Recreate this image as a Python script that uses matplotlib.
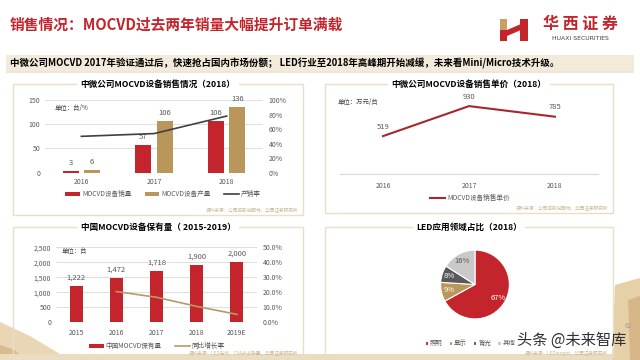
import matplotlib
matplotlib.use('Agg')
import matplotlib.pyplot as plt
import matplotlib.patches as mpatches
from matplotlib.ticker import FuncFormatter

plt.rcParams['font.family'] = ['Noto Sans CJK SC', 'DejaVu Sans']
plt.rcParams['axes.unicode_minus'] = False

W, H = 640, 360  # canvas in pixels

RED = '#C4242B'
DARKRED = '#A8262C'
GOLD = '#B9975B'
GREY_TXT = '#595959'
GRID = '#D9D9D9'
FRAME = '#EADFC6'
SRC = '#C9B48E'

# --- data -------------------------------------------------------------
sales_years = ['2016', '2017', '2018']
sales_qty = [3, 57, 106]          # MOCVD设备销量
prod_qty = [6, 106, 136]          # MOCVD设备产量
sell_rate = [0.50, 0.538, 0.779]  # 产销率

price_years = ['2016', '2017', '2018']
unit_price = [519, 930, 785]      # 万元/台

stock_years = ['2015', '2016', '2017', '2018', '2019E']
stock_qty = [1222, 1472, 1718, 1900, 2000]
stock_growth = [0.205, 0.167, 0.106, 0.053]  # from 2016 on

pie_labels = ['照明', '显示', '背光', '其他']
pie_share = [67, 9, 8, 16]
pie_colors = [RED, GOLD, '#595959', '#C9C9C9']


fig = plt.figure(figsize=(6.4, 3.6), dpi=100)
fig.patch.set_facecolor('white')


def px(x, y):
    # pixel (from top-left) -> figure fraction
    return x / W, 1 - y / H


def px_axes(x0, y0, x1, y1):
    return fig.add_axes([x0 / W, 1 - y1 / H, (x1 - x0) / W, (y1 - y0) / H])


def fig_poly(points, color):
    fig.patches.append(mpatches.Polygon([px(x, y) for x, y in points], closed=True,
                                        transform=fig.transFigure, fc=color, ec='none',
                                        zorder=0))


def fig_rect(x0, y0, x1, y1, **kw):
    fig.patches.append(mpatches.Rectangle(px(x0, y1), (x1 - x0) / W, (y1 - y0) / H,
                                          transform=fig.transFigure, **kw))


def panel(x0, y0, x1, y1, title, source):
    fig_rect(x0, y0, x1, y1, fc='none', ec=FRAME, lw=1.0, zorder=1)
    fig.text(*px((x0 + x1) / 2, y0), title, ha='center', va='center', fontsize=6.2,
             fontweight='bold', color='black', zorder=3,
             bbox=dict(fc='white', ec='none', pad=2.5))
    fig.text(*px(x1 - 5, y1 - 4), source, ha='right', va='center', fontsize=3.3,
             color=SRC, zorder=3)


def style_ax(ax):
    for s in ax.spines.values():
        s.set_visible(False)
    ax.tick_params(length=0, labelsize=5, labelcolor=GREY_TXT)
    ax.set_facecolor('none')


# wooden background bits at the bottom
fig_poly([(0, 322), (30, 336), (70, 360), (0, 360)], '#E9D6B4')
fig_poly([(0, 345), (15, 350), (25, 360), (0, 360)], '#D9BC8E')
fig_poly([(0, 354), (640, 354), (640, 360), (0, 360)], '#EBDCC0')
fig_poly([(615, 285), (640, 278), (640, 360), (612, 360)], '#E6D0A8')
fig_poly([(628, 300), (640, 296), (640, 360), (630, 360)], '#D7B787')

# --- header -----------------------------------------------------------
fig.text(*px(10, 25), '销售情况：MOCVD过去两年销量大幅提升订单满载', fontsize=10.6,
         fontweight='bold', color=RED, va='center', ha='left')

# logo mark
fig_rect(500, 19, 507, 30, fc='#C9A062', ec='none')
fig_rect(500, 30, 507, 41, fc=RED, ec='none')
fig_poly([(507, 30), (521, 24), (521, 30), (507, 36)], RED)
fig_rect(520, 19, 528, 41, fc=RED, ec='none')
fig.text(*px(580, 24), '华 西 证 券', fontsize=11.5, fontweight='bold', color=RED,
         ha='center', va='center')
fig.text(*px(580, 38), 'HUAXI SECURITIES', fontsize=4.4, color='#404040',
         ha='center', va='center', family=['DejaVu Sans'])

# banner
fig_rect(6, 55, 634, 71, fc='#F3EADA', ec='none', zorder=1)
fig_rect(6, 71, 634, 73, fc='#EDE6DA', ec='none', zorder=1)
fig.text(*px(10, 63), '中微公司MOCVD 2017年验证通过后，快速抢占国内市场份额； '
         'LED行业至2018年高峰期开始减缓，未来看Mini/Micro技术升级。',
         fontsize=6.8, fontweight='bold', color='black', va='center', ha='left', zorder=2)

# --- panel 1: sales & production -------------------------------------
panel(13, 84, 303, 215, '中微公司MOCVD设备销售情况（2018）',
      '资料来源：公司招股说明书，华西证券研究所')
ax1 = px_axes(45, 100, 263, 172.7)
style_ax(ax1)
xs = list(range(len(sales_years)))
b1 = ax1.bar([x - 0.145 for x in xs], sales_qty, width=0.22, color=RED, zorder=2)
b2 = ax1.bar([x + 0.145 for x in xs], prod_qty, width=0.22, color=GOLD, zorder=2)
for x, v in zip(xs, sales_qty):
    ax1.annotate(str(v), (x - 0.145, v), xytext=(0, 3), textcoords='offset points',
                 ha='center', va='bottom', fontsize=5.5, color=GREY_TXT)
for x, v in zip(xs, prod_qty):
    ax1.annotate(str(v), (x + 0.145, v), xytext=(0, 3), textcoords='offset points',
                 ha='center', va='bottom', fontsize=5.5, color=GREY_TXT)
ax1.set_xlim(-0.5, len(xs) - 0.5)
ax1.set_ylim(0, 150)
ax1.set_yticks([0, 50, 100, 150])
ax1.set_xticks(xs)
ax1.set_xticklabels(sales_years)
ax1.tick_params(axis='x', pad=4)
ax1.grid(axis='y', color=GRID, lw=0.6, zorder=0)
ax1.set_axisbelow(True)
ax1.text(0.045, 0.86, '单位：台/%', transform=ax1.transAxes, fontsize=4.6, color='#404040')

ax1r = ax1.twinx()
style_ax(ax1r)
ln1, = ax1r.plot(xs, sell_rate, color='#404040', lw=1.2, zorder=3)
ax1r.set_ylim(0, 1)
ax1r.set_yticks([0, 0.2, 0.4, 0.6, 0.8, 1.0])
ax1r.yaxis.set_major_formatter(FuncFormatter(lambda v, p: '{:.0%}'.format(v)))
ax1r.tick_params(axis='y', pad=4)

fig.legend([b1, b2, ln1], ['MOCVD设备销量', 'MOCVD设备产量', '产销率'], loc='center',
           bbox_to_anchor=px(163, 194), ncol=3, frameon=False, fontsize=4.8,
           labelcolor=GREY_TXT, handlelength=2.2, handleheight=0.6, columnspacing=2.0,
           handletextpad=0.3)

# --- panel 2: unit price ---------------------------------------------
panel(325, 84, 613, 213, '中微公司MOCVD设备销售单价（2018）',
      '资料来源：公司招股说明书，华西证券研究所')
ax2 = px_axes(340, 101, 598, 174)
style_ax(ax2)
xs2 = list(range(len(price_years)))
ln2, = ax2.plot(xs2, unit_price, color=DARKRED, lw=1.5, zorder=3)
for x, v in zip(xs2, unit_price):
    ax2.annotate(str(v), (x, v), xytext=(0, 4), textcoords='offset points',
                 ha='center', va='bottom', fontsize=5.5, color=GREY_TXT)
ax2.set_xlim(-0.5, len(xs2) - 0.5)
ax2.set_ylim(0, 1000)
ax2.set_yticks([])
ax2.set_xticks(xs2)
ax2.set_xticklabels(price_years)
ax2.tick_params(axis='x', pad=6)
ax2.spines['bottom'].set_visible(True)
ax2.spines['bottom'].set_color(GRID)
ax2.spines['bottom'].set_linewidth(0.8)
fig.text(*px(338, 102), '单位：万元/台', fontsize=4.6, color='#404040', va='center')
fig.legend([ln2], ['MOCVD设备销售单价'], loc='center', bbox_to_anchor=px(470, 198),
           frameon=False, fontsize=4.8, labelcolor=GREY_TXT, handlelength=2.2,
           handletextpad=0.3)

# --- panel 3: installed base -----------------------------------------
panel(13, 227, 303, 357, '中国MOCVD设备保有量（ 2015-2019）',
      '资料来源：LED在线，CSA产业联盟，华西证券研究所')
ax3 = px_axes(56, 247.3, 257, 322.3)
style_ax(ax3)
xs3 = list(range(len(stock_years)))
b3 = ax3.bar(xs3, stock_qty, width=0.32, color=RED, zorder=2)
for x, v in zip(xs3, stock_qty):
    ax3.annotate('{:,}'.format(v), (x, v), xytext=(0, 3), textcoords='offset points',
                 ha='center', va='bottom', fontsize=5.5, color=GREY_TXT)
ax3.set_xlim(-0.5, len(xs3) - 0.5)
ax3.set_ylim(0, 2500)
ax3.set_yticks(range(0, 2501, 500))
ax3.yaxis.set_major_formatter(FuncFormatter(lambda v, p: '{:,.0f}'.format(v)))
ax3.set_xticks(xs3)
ax3.set_xticklabels(stock_years)
ax3.tick_params(axis='x', pad=5)
ax3.grid(axis='y', color=GRID, lw=0.6, zorder=0)
ax3.set_axisbelow(True)
ax3.text(0.03, 0.93, '单位：台', transform=ax3.transAxes, fontsize=4.6, color='#404040')

ax3r = ax3.twinx()
style_ax(ax3r)
ln3, = ax3r.plot(xs3[1:], stock_growth, color='#B59A6A', lw=1.2, zorder=3)
ax3r.set_ylim(0, 0.5)
ax3r.set_yticks([0, 0.1, 0.2, 0.3, 0.4, 0.5])
ax3r.yaxis.set_major_formatter(FuncFormatter(lambda v, p: '{:.1%}'.format(v)))
ax3r.tick_params(axis='y', pad=4)
fig.legend([b3, ln3], ['中国MOCVD保有量', '同比增长率'], loc='center',
           bbox_to_anchor=px(157, 346), ncol=2, frameon=False, fontsize=4.8,
           labelcolor=GREY_TXT, handlelength=2.2, handleheight=0.6, columnspacing=2.0,
           handletextpad=0.3)

# --- panel 4: LED application pie ------------------------------------
panel(325, 227, 613, 357, 'LED应用领域占比（2018）',
      '资料来源：LEDinsight，华西证券研究所')
ax4 = px_axes(432, 241.5, 518, 327.5)
wedges, _, autotexts = ax4.pie(pie_share, colors=pie_colors, startangle=90,
                               counterclock=False, autopct='%d%%', pctdistance=0.78,
                               wedgeprops=dict(edgecolor='white', linewidth=0.8),
                               textprops=dict(fontsize=5.5, color='white'))
autotexts[-1].set_color(GREY_TXT)
ax4.set_aspect('equal')
fig.legend(wedges, pie_labels, loc='center', bbox_to_anchor=px(470, 343), ncol=4,
           frameon=False, fontsize=4.6, labelcolor=GREY_TXT, handlelength=0.5,
           handleheight=0.5, columnspacing=1.0, handletextpad=0.3)

# page number and watermark
fig.text(*px(628, 326), '62', fontsize=5, color='#A0A0A0', ha='center', va='center')
fig.text(*px(517, 340), '头条 @未来智库', fontsize=11, color='#303030', va='center',
         ha='left', zorder=5)

fig.savefig('out.png', dpi=100)
